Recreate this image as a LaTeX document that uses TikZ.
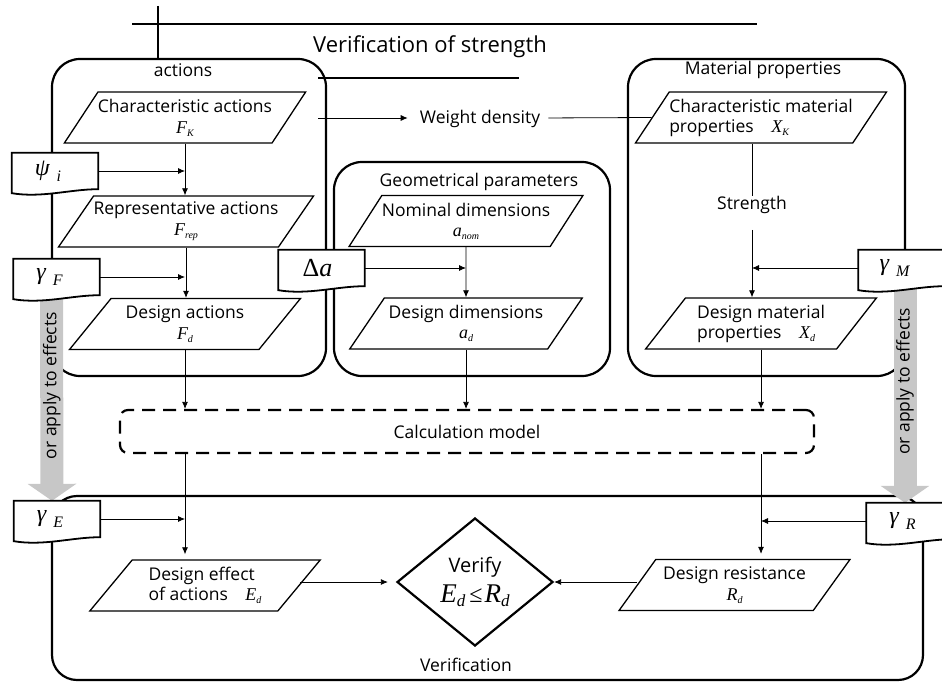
\documentclass[tikz,border=0pt]{standalone}
\usepackage{fontspec}
\setmainfont{Open Sans}
\newfontfamily\tnr{Liberation Serif}
\usetikzlibrary{shapes.geometric,arrows.meta,positioning}
\tikzset{para/.style={draw, line width=1.3pt, trapezium, trapezium left angle=48,
    trapezium right angle=132, trapezium stretches=true, minimum width=231pt,
    minimum height=51pt, inner sep=0pt, align=center, font=\fontsize{17.5}{20}\selectfont},
  group/.style={draw, line width=2.2pt, rounded corners=28pt},
  doc/.style={minimum width=86pt, minimum height=36pt, inner sep=0pt},
  arr/.style={-{Latex[length=7pt,width=6pt]}, line width=0.8pt},
  lbl/.style={inner sep=0pt, font=\fontsize{17.5}{20}\selectfont},
  fat/.style={line width=23pt, draw=black!22, -{Triangle[length=17pt,width=48pt]}}}
\newcommand{\mv}[2]{{\tnr\itshape\fontsize{18}{18}\selectfont #1}\raisebox{-3pt}{\tnr\itshape\fontsize{10}{10}\selectfont #2}}
\newcommand{\gk}[2]{{\tnr\itshape\fontsize{24}{24}\selectfont #1}\hspace{7pt}\raisebox{-6pt}{\tnr\itshape\fontsize{16}{16}\selectfont #2}\hspace*{14pt}}
\newcommand{\docshape}[1]{\draw[line width=1.8pt, fill=white] (#1.north west) -- (#1.north east) -- (#1.south east)
  .. controls ([xshift=-28pt]#1.south east) and ([xshift=30pt,yshift=-9pt]#1.south west) .. ([yshift=-4pt]#1.south west) -- cycle;}

\begin{document}
\begin{tikzpicture}[x=1pt,y=-1pt]
\useasboundingbox (0,0) rectangle (942,682);

% title and top lines
\draw[line width=1.2pt] (132,24) -- (757,24);
\draw[line width=1.2pt] (158,6) -- (158,59);
\node[font=\fontsize{22}{24}\selectfont] (title) at (430,47) {Verification of strength};
\draw[line width=1.2pt] (318,78) -- (519,78);

% groups
\draw[group] (52,59) rectangle (326,376);
\node[lbl] (actlbl) at (183,70) {actions};
\draw[group] (334,162) rectangle (610,376);
\node[lbl] (geolbl) at (479,182) {Geometrical parameters};
\draw[group] (628,59) rectangle (905,376);
\node[lbl] (matlbl) at (763,70) {Material properties};
\draw[group, rounded corners=25pt] (52,496) rectangle (923,680);
\node[lbl] (verlbl) at (466,665) {Verification};

% values
\node[para] (chA) at (185,117.5) {Characteristic actions\\[1pt] \mv{F}{K}};
\node[para, minimum width=252pt] (repA) at (186,221.5) {Representative actions\\[1pt] \mv{F}{rep}};
\node[para] (desA) at (185,324) {Design actions\\[1pt] \mv{F}{d}};
\node[para, minimum width=233pt] (nomD) at (466,221) {Nominal dimensions\\ \mv{a}{nom}};
\node[para, minimum width=233pt] (desD) at (466,323.5) {Design dimensions\\ \mv{a}{d}};
\node[para, align=left] (chM) at (761,117.5) {Characteristic material\\ properties\quad\mv{X}{K}};
\node[para, align=left] (desM) at (761,323.5) {Design material\\ properties\quad\mv{X}{d}};
\node[para, align=left] (desE) at (205,585.5) {Design effect\\ of actions\quad\mv{E}{d}};
\node[para] (desR) at (734.5,585) {Design resistance\\[1pt] \mv{R}{d}};

\node[draw, line width=2.2pt, dash pattern=on 13pt off 8pt, rounded corners=8pt,
  minimum width=694pt, minimum height=43pt, font=\fontsize{17.5}{20}\selectfont] (calc) at (467,431.5) {Calculation model};
\node[diamond, draw, line width=2.2pt, minimum width=156pt, minimum height=128pt, inner sep=0pt,
  align=center] (ver) at (475,582) {{\fontsize{20}{22}\selectfont Verify}\\[7pt]
  {\tnr\itshape\fontsize{27}{27}\selectfont E}\raisebox{-4pt}{\tnr\itshape\fontsize{17}{17}\selectfont d}\hspace{4pt}{\tnr\fontsize{24}{24}\selectfont ≤}\hspace{2pt}{\tnr\itshape\fontsize{27}{27}\selectfont R}\raisebox{-4pt}{\tnr\itshape\fontsize{17}{17}\selectfont d}};

\node[lbl] (wd) at (480,119) {Weight density};
\coordinate (wdin) at (318,118);
\node[lbl] (str) at (752,205) {Strength};

% partial factors
\node[doc] (psi) at (55,171) {};
\node[doc] (gF) at (56.5,277) {};
\node[doc] (da) at (321.5,268) {};
\node[doc] (gM) at (901.5,268) {};
\node[doc] (gE) at (57,519) {};
\node[doc] (gR) at (909.5,521) {};

% connectors
\draw[arr] (chA.south) -- (chA.south |- repA.north);
\draw[arr] (repA.south) -- (repA.south |- desA.north);
\draw[arr] (psi.east) -- (psi.east -| chA.south);
\draw[arr] (gF.east) -- (gF.east -| chA.south);
\draw[arr] (nomD.south) -- (desD.north);
\draw[arr] (da.east) -- (da.east -| nomD.south);
\draw[arr, shorten >=12pt] (wdin) -- (wd.west |- wdin);
\draw[line width=0.8pt, shorten <=8pt] (wd.east |- wdin) -- (chM.west);
\draw[line width=0.8pt] (str.north |- chM.south) -- (str.north);
\draw[arr, shorten <=16pt] (str.south) -- (str.south |- desM.north);
\draw[arr] (gM.west) -- (gM.west -| str.south);
\draw[arr] (desA.south) -- (desA.south |- calc.north);
\draw[arr] (desD.south) -- (desD.south |- calc.north);
\draw[arr] (desM.south) -- (desM.south |- calc.north);
\draw[arr, shorten >=5pt] (desA.south |- calc.south) -- (desA.south |- desE.north);
\draw[arr] (gE.east) -- (gE.east -| desA.south);
\draw[arr, shorten >=5pt] (desM.south |- calc.south) -- (desM.south |- desR.north);
\draw[arr] (gR.west) -- (gR.west -| desM.south);
\draw[arr, shorten >=8pt] (desE.east |- ver.west) -- (ver.west);
\draw[arr] (desR.west |- ver.east) -- (ver.east);

% apply to effects
\draw[fat] ([xshift=-5pt]gF.south) -- ([xshift=-5pt]gE.north)
  node[pos=0.44, rotate=90, lbl] (appL) {or apply to effects};
\draw[fat] ([xshift=3.5pt]gM.south) -- ([xshift=-4.5pt]gR.north)
  node[pos=0.44, rotate=90, lbl] (appR) {or apply to effects};

\docshape{psi} \docshape{gF} \docshape{da} \docshape{gM} \docshape{gE} \docshape{gR}
\node (psit) at (psi) {\gk{ψ}{i}};
\node (gFt) at (gF) {\gk{γ}{F}};
\node (dat) at (da) {{\tnr\fontsize{26}{26}\selectfont Δ\textit{a}}\hspace*{8pt}};
\node (gMt) at (gM) {\gk{γ}{M}};
\node (gEt) at (gE) {\gk{γ}{E}};
\node (gRt) at (gR) {\gk{γ}{R}};
\end{tikzpicture}
\end{document}
